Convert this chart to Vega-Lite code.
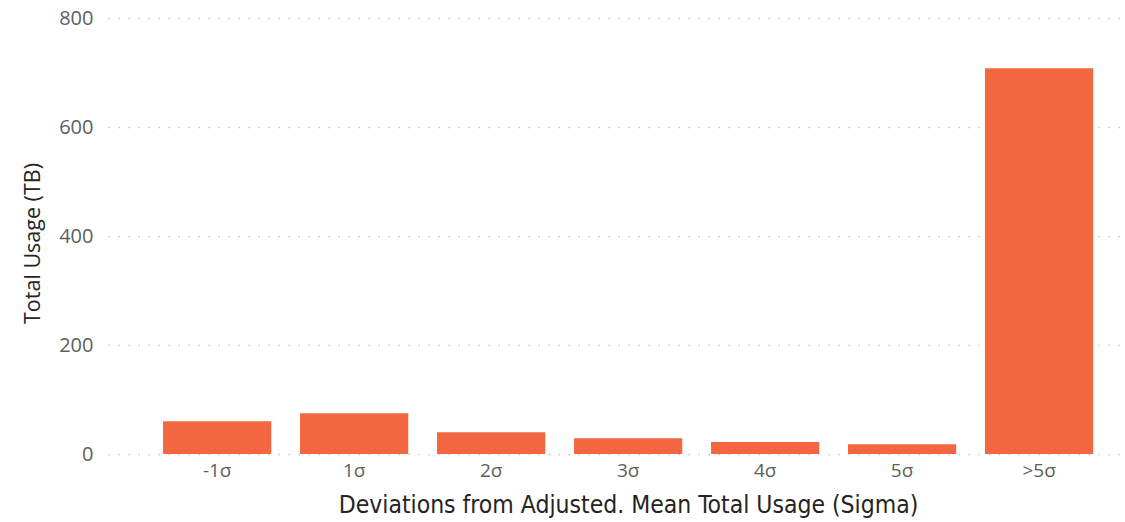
{
  "$schema": "https://vega.github.io/schema/vega-lite/v6.json",
  "autosize": {"type": "none"},
  "padding": {"left": 108, "top": 18, "right": 0, "bottom": 68},
  "width": 1017,
  "height": 436,
  "background": "white",
  "data": {"values": [
    {"sigma": "-1σ", "usage": 60},
    {"sigma": "1σ", "usage": 75},
    {"sigma": "2σ", "usage": 40},
    {"sigma": "3σ", "usage": 29},
    {"sigma": "4σ", "usage": 22},
    {"sigma": "5σ", "usage": 18},
    {"sigma": ">5σ", "usage": 708}
  ]},
  "mark": {"type": "bar", "color": "#F2673F"},
  "encoding": {
    "x": {
      "field": "sigma", "type": "nominal", "sort": null,
      "title": "Deviations from Adjusted. Mean Total Usage (Sigma)",
      "scale": {"paddingInner": 0.21, "paddingOuter": 0.317, "align": 0.634},
      "axis": {
        "labelAngle": 0, "domain": false, "ticks": false, "grid": false,
        "labelFont": "Open Sans", "labelFontSize": 19, "labelColor": "#605E5C", "labelPadding": 7,
        "titleFont": "DejaVu Sans Condensed", "titleFontSize": 24.5, "titleFontWeight": "normal", "titleColor": "#252423", "titlePadding": 13,
        "titleX": 520, "titleAlign": "center"
      }
    },
    "y": {
      "field": "usage", "type": "quantitative",
      "title": "Total Usage (TB)",
      "scale": {"domain": [0, 800], "nice": false},
      "axis": {
        "values": [0, 200, 400, 600, 800],
        "domain": false, "ticks": false,
        "grid": true, "gridColor": "#C8C6C4", "gridDash": [1.5, 8.5], "gridWidth": 1.5,
        "labelFont": "Open Sans", "labelFontSize": 20, "labelColor": "#605E5C", "labelPadding": 15,
        "titleFont": "Open Sans", "titleFontSize": 21.5, "titleFontWeight": "normal", "titleColor": "#252423", "titlePadding": 14,
        "titleY": 225, "titleAlign": "center"
      }
    }
  },
  "config": {"view": {"stroke": null}}
}
